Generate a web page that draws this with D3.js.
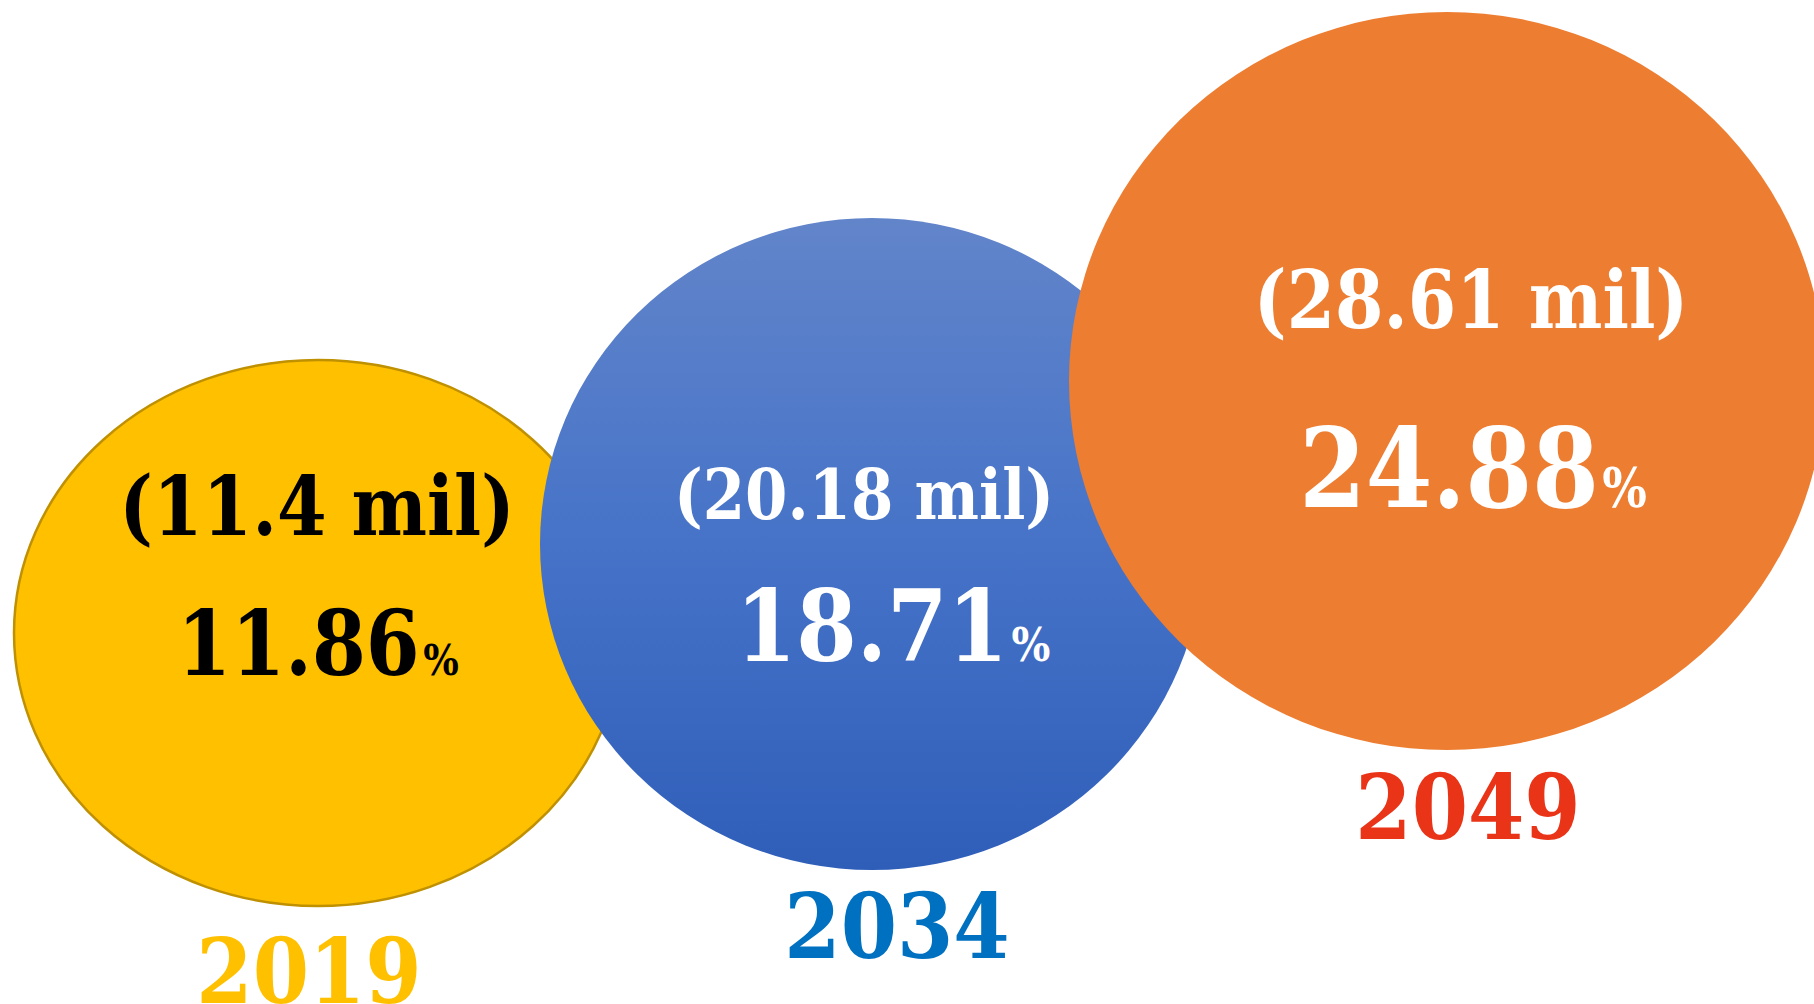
<!DOCTYPE html>
<html>
<head>
<meta charset="utf-8">
<script src="https://cdn.jsdelivr.net/npm/d3@7"></script>
<style>
  html, body { margin: 0; padding: 0; background: #ffffff; overflow: hidden; }
  svg { display: block; }
  text { font-family: "DejaVu Serif", "Liberation Serif", serif; font-weight: bold; }
</style>
</head>
<body>
<script>
// Elderly population projection: people (millions) and share of population (%)
const years = ["2019", "2034", "2049"];
const population = [11.4, 20.18, 28.61];
const share = [11.86, 18.71, 24.88];

// Visual styling per year
const fillColors = ["#FFC000", "url(#blueGrad)", "#ED7D31"];
const textColors = ["#000000", "#ffffff", "#ffffff"];
const yearColors = ["#FFC000", "#0070C0", "#EA3418"];

// Layout of the bubbles and their labels
const centerX = [318, 872, 1447];
const centerY = [633, 544, 381];
const line1 = [{dx: -1, y: 535, size: 82}, {dx: -8, y: 519, size: 70}, {dx: 24, y: 328, size: 80}];
const line2 = [{dx: 0, y: 675, size: 89, pct: 43}, {dx: 21, y: 661, size: 100, pct: 47}, {dx: 26, y: 507, size: 110, pct: 54}];
const yearPos = [{x: 309, y: 1003}, {x: 897, y: 958}, {x: 1468, y: 839}];
const squeeze = 0.87;
const yearSqueeze = 0.9;

const W = 1814, H = 1004;
const svg = d3.select("body").append("svg").attr("width", W).attr("height", H);

const defs = svg.append("defs");
const g = defs.append("linearGradient").attr("id", "blueGrad")
  .attr("x1", 0).attr("y1", 0).attr("x2", 0).attr("y2", 1);
g.append("stop").attr("offset", "0%").attr("stop-color", "#6285CA");
g.append("stop").attr("offset", "50%").attr("stop-color", "#4673C8");
g.append("stop").attr("offset", "100%").attr("stop-color", "#2F5EB9");

// Bubble radii grow with the population figure
const rxScale = d3.scaleLinear().domain(population).range([304, 332, 378]);
const ryScale = d3.scaleLinear().domain(population).range([273, 326, 369]);
const xPos = d3.scaleOrdinal().domain(years).range(centerX);
const yPos = d3.scaleOrdinal().domain(years).range(centerY);

const data = years.map((y, i) => ({year: y, pop: population[i], pct: share[i], i}));

svg.selectAll("ellipse.bubble").data(data).join("ellipse")
  .attr("class", "bubble")
  .attr("cx", d => xPos(d.year))
  .attr("cy", d => yPos(d.year))
  .attr("rx", d => rxScale(d.pop))
  .attr("ry", d => ryScale(d.pop))
  .attr("fill", d => fillColors[d.i])
  .attr("stroke", d => d.i === 0 ? "#BF9000" : "none")
  .attr("stroke-width", 2.5);

// Population line
svg.selectAll("text.pop").data(data).join("text")
  .attr("class", "pop")
  .attr("text-anchor", "middle")
  .attr("transform", d => `translate(${xPos(d.year) + line1[d.i].dx},${line1[d.i].y}) scale(${squeeze},1)`)
  .attr("font-size", d => line1[d.i].size)
  .attr("fill", d => textColors[d.i])
  .text(d => `(${d.pop} mil)`);

// Share line with a smaller percent sign
const pctText = svg.selectAll("text.pct").data(data).join("text")
  .attr("class", "pct")
  .attr("text-anchor", "middle")
  .attr("transform", d => `translate(${xPos(d.year) + line2[d.i].dx},${line2[d.i].y}) scale(${squeeze},1)`)
  .attr("font-size", d => line2[d.i].size)
  .attr("fill", d => textColors[d.i]);
pctText.append("tspan").text(d => d3.format(".2f")(d.pct));
pctText.append("tspan").attr("font-size", d => line2[d.i].pct).attr("dx", 4).text("%");

// Year labels under each bubble
svg.selectAll("text.year").data(data).join("text")
  .attr("class", "year")
  .attr("text-anchor", "middle")
  .attr("transform", d => `translate(${yearPos[d.i].x},${yearPos[d.i].y}) scale(${yearSqueeze},1)`)
  .attr("font-size", 90)
  .attr("fill", d => yearColors[d.i])
  .text(d => d.year);
</script>
</body>
</html>
